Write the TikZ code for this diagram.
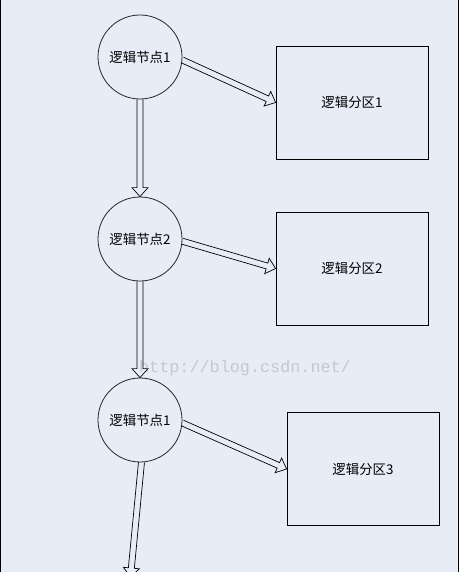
\documentclass[tikz,border=0pt]{standalone}
\usepackage{fontspec}
\newfontfamily\cjk{Noto Sans CJK SC}
\newfontfamily\wmfont{Liberation Mono}
\usetikzlibrary{calc}
\definecolor{bgblue}{RGB}{231,236,246}
\definecolor{wmgray}{RGB}{196,200,210}
\tikzset{
  nodecircle/.style={circle, draw=black!85, line width=0.8pt, minimum size=84pt, inner sep=0pt,
    font=\cjk\fontsize{13.4}{16}\selectfont},
  partbox/.style={rectangle, draw=black, line width=0.8pt, minimum width=152pt, minimum height=113pt,
    inner sep=0pt, font=\cjk\fontsize{13.4}{16}\selectfont},
  arrowline/.style={draw=black, line width=0.7pt, line join=miter}
}
\newcommand{\hollowarrow}[2]{%
  \path ($(#2)!9pt!(#1)$) coordinate (hb);
  \draw[arrowline] ($(#1)!3pt!90:(#2)$) -- ($(hb)!3pt!-90:(#1)$) -- ($(hb)!8pt!-90:(#1)$) -- (#2)
     -- ($(hb)!8pt!90:(#1)$) -- ($(hb)!3pt!90:(#1)$) -- ($(#1)!3pt!-90:(#2)$);
}
\begin{document}
\begin{tikzpicture}[x=1pt,y=-1pt]
\useasboundingbox (0,0) rectangle (469,572);
\clip (0,0) rectangle (469,572);
\fill[white] (0,0) rectangle (469,572);
\fill[bgblue] (0,0) rectangle (458.5,572);
\draw[black, line width=1pt] (0.5,0) -- (0.5,572);
\draw[black, line width=1pt] (458.5,0) -- (458.5,572);

\node[nodecircle] (c1) at (140,57) {逻辑节点1};
\node[nodecircle] (c2) at (140,239) {逻辑节点2};
\node[nodecircle] (c3) at (140,420) {逻辑节点1};

\node[partbox] (b1) at (352,102.5) {逻辑分区1};
\node[partbox] (b2) at (352,268.5) {逻辑分区2};
\node[partbox] (b3) at (363,469) {逻辑分区3};

\node[font=\wmfont\fontsize{16.8}{18}\selectfont, text=wmgray, inner sep=0pt] (wm) at (245,368) {http://blog.csdn.net/};

\coordinate (down) at (130.5,577);

\hollowarrow{c1.south}{c2.north}
\hollowarrow{c2.south}{c3.north}
\hollowarrow{c3.-88}{down}
\hollowarrow{c1.-4}{b1.west}
\hollowarrow{c2.-3}{b2.west}
\hollowarrow{c3.-4}{b3.west}
\end{tikzpicture}
\end{document}
